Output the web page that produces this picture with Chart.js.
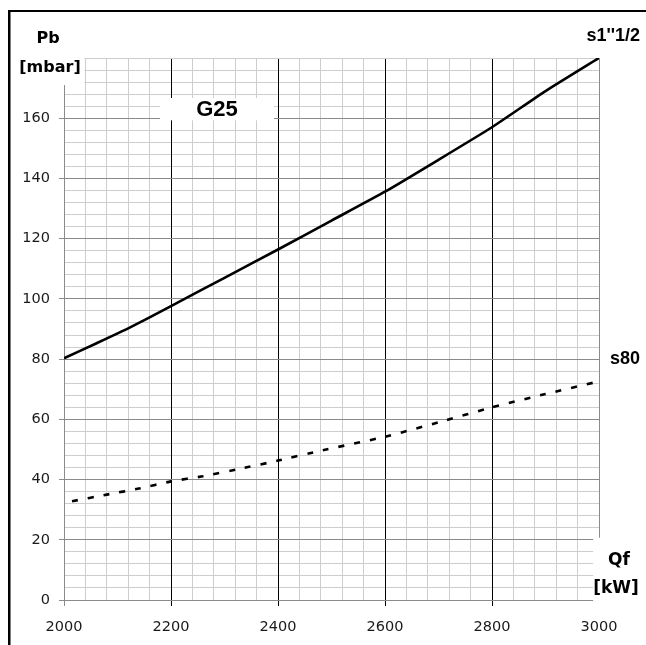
<!DOCTYPE html>
<html>
<head>
<meta charset="utf-8">
<script src="https://cdn.jsdelivr.net/npm/chart.js@4/dist/chart.umd.min.js"></script>
<style>
  html, body { margin: 0; padding: 0; background: #fff; }
  canvas { display: block; }
</style>
</head>
<body>
<canvas id="chart" width="646" height="645"></canvas>
<script>
// Heat input Qf [kW] against burner pressure Pb [mbar], natural gas G25
const qfS112 = [2000, 2060, 2120, 2200, 2300, 2400, 2500, 2600, 2700, 2800, 2900, 3000];
const pbS112 = [80.3, 85.2, 90.2, 97.6, 107.0, 116.4, 126.0, 135.6, 146.2, 157.0, 169.0, 180.0];

const qfS80 = [2015, 2080, 2140, 2200, 2260, 2330, 2400, 2480, 2600, 2700, 2800, 2900, 3000];
const pbS80 = [32.8, 35.0, 37.0, 39.4, 41.1, 43.6, 46.3, 49.6, 54.2, 59.0, 64.0, 68.4, 72.6];

const xMajorStep = 200;   // labelled kW values
const xMinorStep = 40;
const yMajorStep = 20;    // labelled mbar values
const yMinorStep = 4;

const toPoints = (xs, ys) => xs.map((x, i) => ({ x: x, y: ys[i] }));

const labelFont = '"DejaVu Sans", sans-serif';
const markFont = '"Liberation Sans", Arial, sans-serif';
const CLEAR = 'rgba(0,0,0,0)';

const decorations = {
  id: 'decorations',
  beforeDraw(chart) {
    const ctx = chart.ctx;
    ctx.save();
    ctx.fillStyle = '#fff';
    ctx.fillRect(0, 0, chart.width, chart.height);
    ctx.restore();
  },
  afterDraw(chart) {
    const ctx = chart.ctx;
    const x = chart.scales.x, y = chart.scales.y;
    ctx.save();

    // white panels behind the captions
    ctx.fillStyle = '#fff';
    ctx.fillRect(12, 50, x.getPixelForValue(2040) - 13, y.getPixelForValue(171) - 50);
    ctx.fillRect(160, y.getPixelForValue(166.7), 114, y.getPixelForValue(159.3) - y.getPixelForValue(166.7));
    ctx.fillRect(x.getPixelForValue(2989), y.getPixelForValue(20.7), 60, 75);

    // frame
    ctx.fillStyle = '#000';
    ctx.fillRect(8, 10, 638, 2);
    ctx.fillRect(8, 10, 2.5, 635);

    ctx.fillStyle = '#000';
    ctx.textBaseline = 'middle';

    // axis titles
    ctx.textAlign = 'center';
    ctx.font = 'bold 16px ' + labelFont;
    ctx.fillText('Pb', 48, 39);
    ctx.fillText('[mbar]', 50, 68);
    ctx.font = 'bold 17px ' + labelFont;
    ctx.fillText('Qf', 619, 561);
    ctx.fillText('[kW]', 616, 589);

    // gas and series captions
    ctx.font = 'bold 22px ' + markFont;
    ctx.fillText('G25', 217, 110);
    ctx.font = 'bold 18px ' + markFont;
    ctx.textAlign = 'right';
    ctx.fillText("s1''1/2", 640, 36);
    ctx.fillText('s80', 640, 359);

    ctx.restore();
  }
};

// light minor grid, drawn underneath the major lines
const minorGrid = (step, major) => ({
  drawTicks: false,
  lineWidth: 1,
  color: (c) => (c.tick.value % major === 0 ? CLEAR : '#cdcdcd')
});

new Chart(document.getElementById('chart'), {
  type: 'line',
  data: {
    datasets: [
      {
        label: "s1''1/2",
        data: toPoints(qfS112, pbS112),
        borderColor: '#000',
        borderWidth: 2.6,
        pointRadius: 0,
        tension: 0.15,
        fill: false
      },
      {
        label: 's80',
        data: toPoints(qfS80, pbS80),
        borderColor: '#000',
        borderWidth: 2.6,
        borderDash: [6, 10],
        borderCapStyle: 'butt',
        pointRadius: 0,
        tension: 0.15,
        fill: false
      }
    ]
  },
  options: {
    responsive: false,
    animation: false,
    devicePixelRatio: 1,
    layout: { padding: { left: 0, top: 58, right: 47, bottom: 0 } },
    plugins: {
      legend: { display: false },
      tooltip: { enabled: false }
    },
    scales: {
      xMinor: {
        type: 'linear',
        position: 'bottom',
        min: 2000,
        max: 3000,
        z: -3,
        afterFit: (s) => { s.height = 0; },
        border: { display: false },
        grid: minorGrid(xMinorStep, xMajorStep),
        ticks: { display: false, stepSize: xMinorStep, autoSkip: false }
      },
      yMinor: {
        type: 'linear',
        position: 'left',
        min: 0,
        max: 180,
        z: -3,
        afterFit: (s) => { s.width = 0; },
        border: { display: false },
        grid: {
          drawTicks: false,
          lineWidth: 1,
          color: (c) => ((c.tick.value % yMajorStep === 0 && c.tick.value < 180) ? CLEAR : '#cdcdcd')
        },
        ticks: { display: false, stepSize: yMinorStep, maxTicksLimit: 1000, autoSkip: false }
      },
      x: {
        type: 'linear',
        position: 'bottom',
        min: 2000,
        max: 3000,
        z: -1,
        afterFit: (s) => { s.height = 45; },
        border: { display: true, color: '#8a8a8a', width: 1 },
        grid: {
          drawTicks: true,
          tickLength: 6,
          lineWidth: 1,
          color: (c) => {
            const v = c.tick.value;
            return (v === 2000 || v === 3000) ? '#8a8a8a' : '#000';
          },
          tickColor: (c) => {
            const v = c.tick.value;
            return (v === 2000 || v === 3000) ? '#8a8a8a' : '#000';
          }
        },
        ticks: {
          stepSize: xMajorStep,
          autoSkip: false,
          maxRotation: 0,
          padding: 13,
          color: '#1a1a1a',
          font: { family: labelFont, size: 14.5 },
          callback: (v) => String(v)
        }
      },
      y: {
        type: 'linear',
        position: 'left',
        min: 0,
        max: 180,
        z: -2,
        afterFit: (s) => { s.width = 64; },
        border: { display: true, color: '#8a8a8a', width: 1 },
        grid: {
          drawTicks: true,
          tickLength: 5,
          lineWidth: 1,
          color: (c) => (c.tick.value < 180 ? '#8a8a8a' : '#cdcdcd'),
          tickColor: (c) => (c.tick.value < 180 ? '#8a8a8a' : CLEAR)
        },
        ticks: {
          stepSize: yMajorStep,
          autoSkip: false,
          padding: 9,
          color: '#1a1a1a',
          font: { family: labelFont, size: 14.5 },
          callback: (v) => (v < 180 ? String(v) : '')
        }
      }
    }
  },
  plugins: [decorations]
});
</script>
</body>
</html>
